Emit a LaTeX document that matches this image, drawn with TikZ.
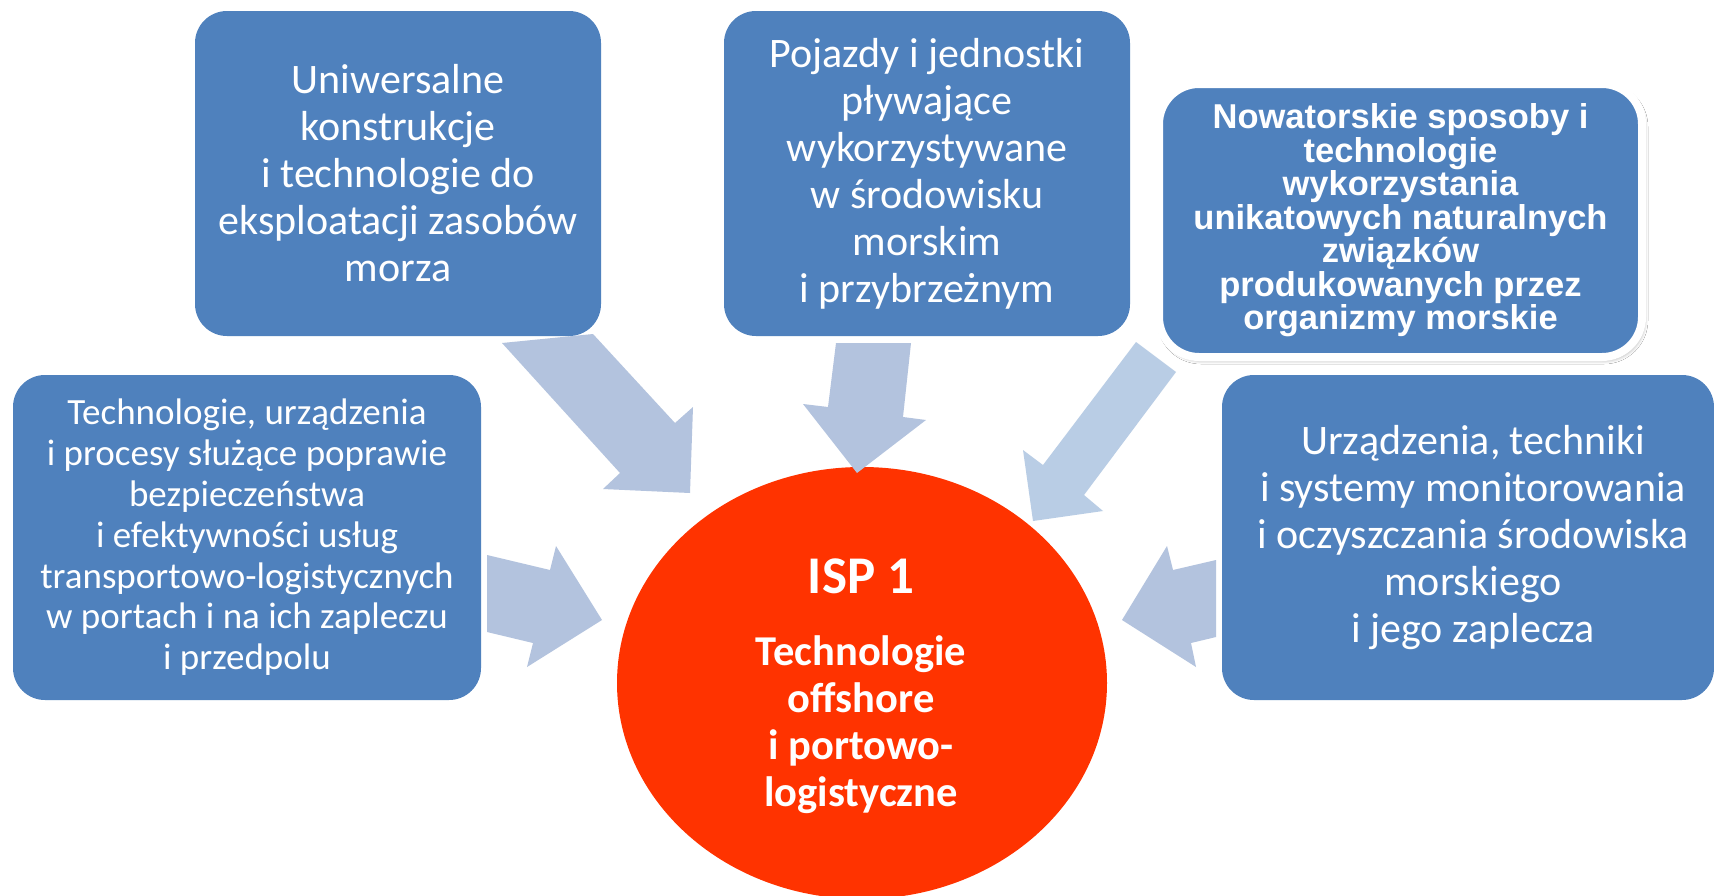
\documentclass[tikz,border=0pt]{standalone}
\usepackage{fontspec}
\setmainfont{Carlito}
\newfontfamily\arialfont{Liberation Sans}
\usetikzlibrary{shapes.geometric,shadows.blur}
\definecolor{boxblue}{HTML}{4F81BD}
\definecolor{arrowblue}{HTML}{B3C3DE}
\definecolor{arrowblueb}{HTML}{B9CDE5}
\definecolor{ispred}{HTML}{FF3300}
\begin{document}
\begin{tikzpicture}[x=1pt,y=-1pt,
  box/.style={fill=boxblue, rounded corners=32pt, text=white, align=center, inner sep=0pt},
  bigtext/.style={font=\fontsize{42}{47}\selectfont},
  midtext/.style={font=\fontsize{37}{40.8}\selectfont},
  blockarrow/.style={fill=arrowblue, draw=none},
  isptext/.style={text=white, align=center, inner sep=0pt}]
\useasboundingbox (0,0) rectangle (1714,895);
\fill[white] (0,0) rectangle (1714,895);

% central ellipse
\node[ellipse, fill=ispred, minimum width=490pt, minimum height=432pt, inner sep=0pt] (isp) at (862,683) {};
\node[isptext, anchor=base, font=\bfseries\fontsize{53}{60}\selectfont] (ispt) at (861,593) {ISP 1};
\node[isptext, anchor=north, font=\bfseries\fontsize{42.5}{47}\selectfont] (ispsub) at (861,635)
  {Technologie\\offshore\\i portowo-\\logistyczne};

% block arrows
\fill[blockarrow] (502,343) -- (593,334) -- (675,423) -- (693,407) -- (690,493) -- (603,489) -- (620,473) -- cycle;
\fill[blockarrow] (836,343) -- (911,343) -- (903,417) -- (926,420) -- (857,473) -- (803,404) -- (828,407) -- cycle;
\fill[blockarrow, fill=arrowblueb] (1136,342) -- (1176,372) -- (1084,495) -- (1103,511) -- (1033,521) -- (1023,450) -- (1043,465) -- cycle;
\fill[blockarrow] (487,555) -- (550,570) -- (556,546) -- (602,620) -- (527,667) -- (533,643) -- (487,632) -- cycle;
\fill[blockarrow] (1216,560) -- (1173,570) -- (1167,546) -- (1122,620) -- (1196,667) -- (1191,643) -- (1216,637) -- cycle;

% boxes
\node[box, bigtext, minimum width=406pt, minimum height=325pt] (A) at (398,173.5)
  {Uniwersalne\\konstrukcje\\i technologie do\\eksploatacji zasobów\\morza};
\node[box, bigtext, minimum width=406pt, minimum height=325pt] (B) at (927,173.5)
  {Pojazdy i jednostki\\pływające\\wykorzystywane\\w środowisku\\morskim\\i przybrzeżnym};
\node[box, rounded corners=40pt, draw=white, line width=8pt, minimum width=483pt, minimum height=273pt,
  blur shadow={shadow xshift=2pt, shadow yshift=-3pt, shadow blur radius=4pt},
  font=\arialfont\bfseries\fontsize{34.5}{33.5}\selectfont] (C) at (1400.5,220.5)
  {Nowatorskie sposoby i\\technologie\\wykorzystania\\unikatowych naturalnych\\związków\\produkowanych przez\\organizmy morskie};
\node[box, midtext, minimum width=468pt, minimum height=325pt] (D) at (247,537.5)
  {Technologie, urządzenia\\i procesy służące poprawie\\bezpieczeństwa\\i efektywności usług\\transportowo-logistycznych\\w portach i na ich zapleczu\\i przedpolu};
\node[box, bigtext, minimum width=492pt, minimum height=325pt] (E) at (1468,537.5)
  {\hspace*{10pt}Urządzenia, techniki\\\hspace*{10pt}i systemy monitorowania\\\hspace*{10pt}i oczyszczania środowiska\\\hspace*{10pt}morskiego\\\hspace*{10pt}i jego zaplecza};
\end{tikzpicture}
\end{document}
